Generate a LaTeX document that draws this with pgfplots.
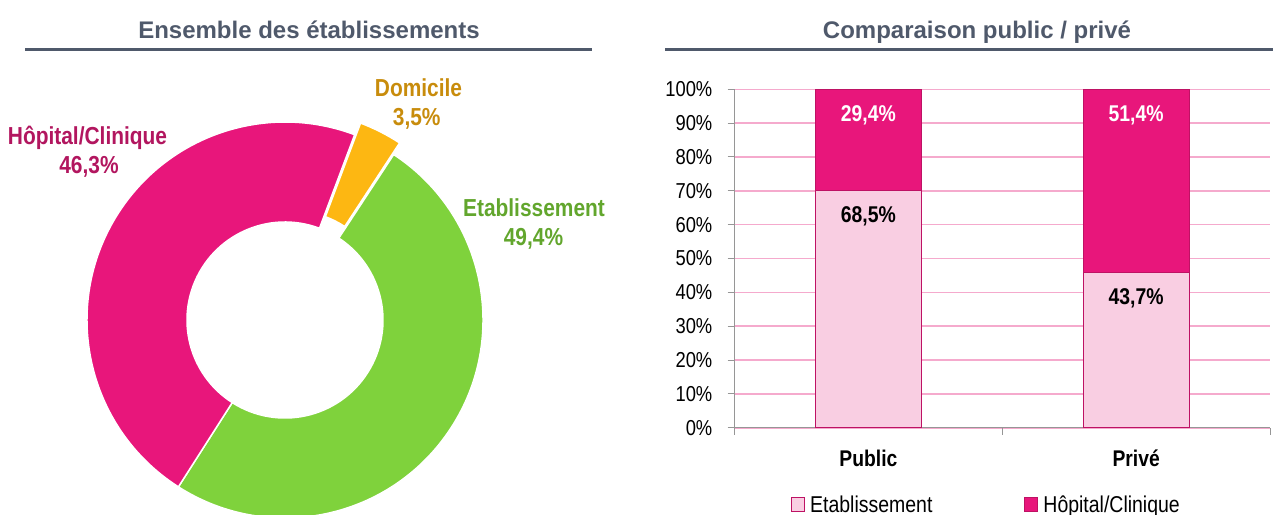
\documentclass[border=0pt]{standalone}
\usepackage{fontspec}
\setmainfont[FakeStretch=0.85]{Liberation Sans}
\newfontfamily\titlefont{Liberation Sans}
\usepackage{pgfplots}
\usepackage{pgfplotstable}
\pgfplotsset{compat=1.18}

\definecolor{titlegray}{RGB}{79,89,107}
\definecolor{hopc}{RGB}{232,22,123}
\definecolor{domc}{RGB}{253,183,18}
\definecolor{etac}{RGB}{127,210,60}
\definecolor{hoplab}{RGB}{178,22,95}
\definecolor{domlab}{RGB}{200,140,12}
\definecolor{etalab}{RGB}{98,166,45}
\definecolor{lpink}{RGB}{249,206,226}
\definecolor{barborder}{RGB}{190,18,100}
\definecolor{gridpink}{RGB}{245,170,205}
\definecolor{axisgray}{RGB}{150,150,150}

% 100% stacked shares; labels are the raw percentages
\pgfplotstableread{
x eta hop etatop hoptop etal hopl
0.5 69.97 30.03 69.97 100 68,5 29,4
1.5 45.95 54.05 45.95 100 43,7 51,4
}\bardata

% donut values (%)
\def\vHop{46.3}
\def\vDom{3.5}
\def\vEta{49.4}

\newcommand\donutslice[4]{%
  \fill[#1, draw=white, line width=1.5pt, shift={#4}]
    (axis cs:{98*cos(#2)},{98*sin(#2)}) -- (axis cs:{198*cos(#2)},{198*sin(#2)})
    arc[start angle=#2, end angle=#3, radius=198pt]
    -- (axis cs:{98*cos(#3)},{98*sin(#3)})
    arc[start angle=#3, end angle=#2, radius=98pt] -- cycle;}

\pgfplotsset{
  barframe/.style={
    at={(734.5pt,-427.7pt)}, anchor=south west,
    scale only axis, width=535.5pt, height=338.4pt,
    xmin=0, xmax=2, ymin=0, ymax=100},
}
\tikzset{barlab/.style={font=\fontsize{22.8}{26}\selectfont\bfseries, anchor=center, yshift=-25.6pt, inner sep=0pt}}

\begin{document}
\begin{tikzpicture}
\path[use as bounding box] (0,0) rectangle (1273pt,-514pt);
\clip (0,0) rectangle (1273pt,-514pt);

\pgfmathsetmacro\tot{\vHop+\vDom+\vEta}
\pgfmathsetmacro\aA{69.4}
\pgfmathsetmacro\aB{\aA-3.6*(\vDom/\tot)*100}
\pgfmathsetmacro\aC{\aB-3.6*(\vEta/\tot)*100}
\pgfmathsetmacro\aD{\aC-3.6*(\vHop/\tot)*100}

% titles
\node[anchor=base, text=titlegray, inner sep=0pt, font=\titlefont\fontsize{24}{28}\selectfont\bfseries] at (309pt,-38pt) {Ensemble des établissements};
\draw[titlegray, line width=3pt] (25pt,-49.5pt) -- (592pt,-49.5pt);
\node[anchor=base, text=titlegray, inner sep=0pt, font=\titlefont\fontsize{24}{28}\selectfont\bfseries] at (977pt,-38pt) {Comparaison public / privé};
\draw[titlegray, line width=3pt] (665pt,-49.5pt) -- (1273pt,-49.5pt);

% donut
\begin{axis}[
  x=1pt, y=1pt, xmin=-280, xmax=280, ymin=-280, ymax=280,
  hide axis, clip=false,
  at={(285pt,-320pt)}, anchor=center,
]
\donutslice{domc}{\aA}{\aB}{(63:13pt)}
\donutslice{etac}{\aB}{\aC}{(0pt,0pt)}
\donutslice{hopc}{\aC}{\aD}{(0pt,0pt)}
\node[anchor=base, inner sep=0pt, text=hoplab, font=\fontsize{24.6}{29}\selectfont\bfseries] at (axis cs:-197.5,175.7) {Hôpital/Clinique};
\node[anchor=base, inner sep=0pt, text=hoplab, font=\fontsize{24.6}{29}\selectfont\bfseries] at (axis cs:-196,147) {46,3\%};
\node[anchor=base, inner sep=0pt, text=domlab, font=\fontsize{24.6}{29}\selectfont\bfseries] at (axis cs:133.5,223.3) {Domicile};
\node[anchor=base, inner sep=0pt, text=domlab, font=\fontsize{24.6}{29}\selectfont\bfseries] at (axis cs:131.7,195) {3,5\%};
\node[anchor=base, inner sep=0pt, text=etalab, font=\fontsize{24.6}{29}\selectfont\bfseries] at (axis cs:249,103.3) {Etablissement};
\node[anchor=base, inner sep=0pt, text=etalab, font=\fontsize{24.6}{29}\selectfont\bfseries] at (axis cs:248.5,75) {49,4\%};
\end{axis}

% stacked bars
\begin{axis}[
  barframe,
  ybar stacked, bar width=106pt,
  axis lines*=left,
  axis line style={draw=axisgray, line width=1pt, -},
  ymajorgrids, grid style={draw=gridpink, line width=1.6pt},
  ytick={0,10,...,100},
  yticklabels={0\%,10\%,20\%,30\%,40\%,50\%,60\%,70\%,80\%,90\%,100\%},
  yticklabel style={font=\fontsize{21.6}{24}\selectfont, anchor=east, inner sep=0pt, xshift=-15pt},
  xtick={0,1,2}, xticklabels={,,},
  extra x ticks={0.5,1.5}, extra x tick labels={Public,Privé},
  extra x tick style={major tick length=0pt},
  xticklabel style={font=\fontsize{22.7}{26}\selectfont\bfseries, anchor=base, inner sep=0pt, yshift=-38.5pt},
  tick align=outside, major tick length=7pt,
  tick style={draw=axisgray, line width=1pt},
  legend columns=2,
  legend style={draw=none, fill=none, at={(0.1055,-0.2284)}, anchor=west,
    inner sep=0pt, font=\fontsize{22.9}{26}\selectfont,
    /tikz/every odd column/.append style={column sep=3pt},
    /tikz/every even column/.append style={column sep=90pt}},
  legend image code/.code={\draw[#1, line width=1pt] (0pt,-7pt) rectangle (13pt,7pt);},
]
\addplot[fill=lpink, draw=barborder, line width=1pt] table[x=x, y=eta] {\bardata};
\addplot[fill=hopc, draw=barborder, line width=1pt] table[x=x, y=hop] {\bardata};
\legend{Etablissement, Hôpital/Clinique}
\end{axis}

% data labels, at the top of each segment
\begin{axis}[barframe, hide axis, clip=false]
\addplot[draw=none, mark=none, point meta=explicit symbolic,
  nodes near coords={\pgfplotspointmeta\%},
  every node near coord/.append style={barlab, text=black}]
  table[x=x, y=etatop, meta=etal] {\bardata};
\addplot[draw=none, mark=none, point meta=explicit symbolic,
  nodes near coords={\pgfplotspointmeta\%},
  every node near coord/.append style={barlab, text=white}]
  table[x=x, y=hoptop, meta=hopl] {\bardata};
\end{axis}
\end{tikzpicture}
\end{document}
